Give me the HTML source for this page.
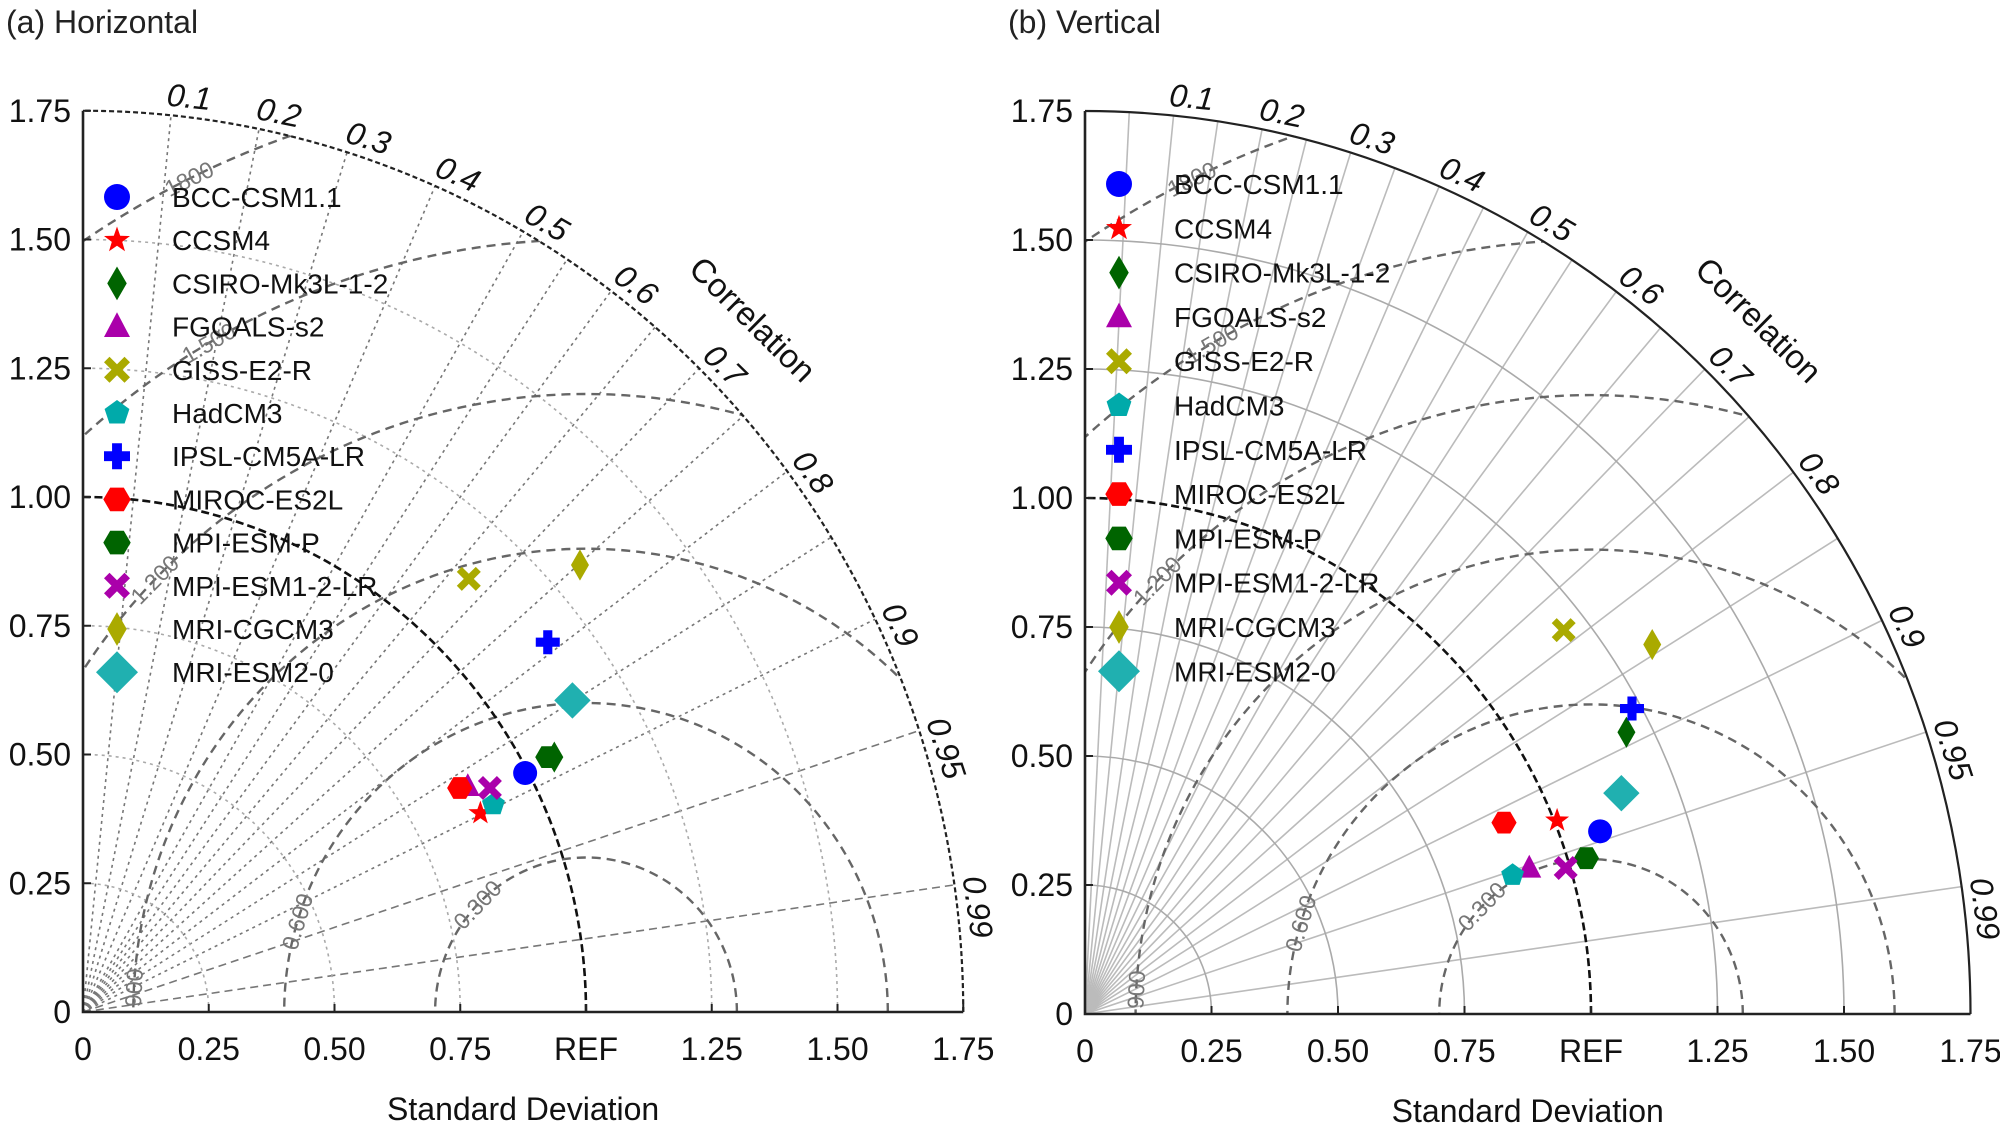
<!DOCTYPE html>
<html><head><meta charset="utf-8">
<style>
html,body{margin:0;padding:0;background:#fff;}
svg{display:block;font-family:"Liberation Sans",Arial,sans-serif;}
</style></head>
<body>
<svg id="chart" width="2000" height="1139" viewBox="0 0 2000 1139" xmlns="http://www.w3.org/2000/svg">
<defs>
<clipPath id="clipA"><path d="M83,1012 L963,1012 A880,902 0 0 0 83,110 Z"/></clipPath>
<clipPath id="clipB"><path d="M1085,1014 L1971,1014 A886,904 0 0 0 1085,110 Z"/></clipPath>
</defs>
</svg>
<script>
const models = ["BCC-CSM1.1","CCSM4","CSIRO-Mk3L-1-2","FGOALS-s2","GISS-E2-R","HadCM3","IPSL-CM5A-LR","MIROC-ES2L","MPI-ESM-P","MPI-ESM1-2-LR","MRI-CGCM3","MRI-ESM2-0"];
const shapes = ["circle","star","diamond","triangle","xmark","pentagon","plus","hexagon","hexagon","xmark","diamond","bigdiamond"];
const colors = ["#0000ff","#ff0000","#006400","#aa00aa","#aaaa00","#00aaaa","#0000ff","#ff0000","#006400","#aa00aa","#aaaa00","#20b0b0"];
// Panel (a) horizontal: std-dev x/y components
const aX = [0.879,0.790,0.937,0.765,0.767,0.816,0.924,0.749,0.924,0.809,0.988,0.973];
const aY = [0.464,0.386,0.495,0.438,0.841,0.403,0.718,0.435,0.495,0.435,0.868,0.605];
// Panel (b) vertical
const bX = [1.018,0.933,1.070,0.878,0.946,0.845,1.081,0.828,0.991,0.950,1.121,1.060];
const bY = [0.354,0.375,0.546,0.283,0.744,0.269,0.592,0.371,0.302,0.283,0.716,0.428];
const sdTicks = ["0","0.25","0.50","0.75","REF","1.25","1.50","1.75"];
const yTicks = ["0","0.25","0.50","0.75","1.00","1.25","1.50","1.75"];
const corrTicks = [0.1,0.2,0.3,0.4,0.5,0.6,0.7,0.8,0.9,0.95,0.99];
const rmsLevels = [0.3,0.6,0.9,1.2,1.5,1.8];
const rmsLabels = ["0.300","0.600","900","1.200","1.500","1800"];
const rmsLabelAng = [136,163,177,135.6,120,116];

const NS="http://www.w3.org/2000/svg";
const svg=document.getElementById('chart');
function mk(tag,attrs,parent){const e=document.createElementNS(NS,tag);for(const k in attrs)e.setAttribute(k,attrs[k]);(parent||svg).appendChild(e);return e;}

function markerPath(shape,cx,cy,s){
  const pts=(n,r,rot)=>{let a=[];for(let i=0;i<n;i++){const t=rot+i*2*Math.PI/n;a.push((cx+r*Math.cos(t)).toFixed(1)+","+(cy+r*Math.sin(t)).toFixed(1));}return "M"+a.join("L")+"Z";};
  switch(shape){
    case "circle": return `M${cx-s},${cy}a${s},${s} 0 1 0 ${2*s},0a${s},${s} 0 1 0 ${-2*s},0Z`;
    case "star": {let a=[];for(let i=0;i<10;i++){const r=i%2?s*0.42:s*1.05;const t=-Math.PI/2+i*Math.PI/5;a.push((cx+r*Math.cos(t)).toFixed(1)+","+(cy+r*Math.sin(t)).toFixed(1));}return "M"+a.join("L")+"Z";}
    case "diamond": return `M${cx},${cy-s*1.3}L${cx+s*0.75},${cy}L${cx},${cy+s*1.3}L${cx-s*0.75},${cy}Z`;
    case "bigdiamond": return `M${cx},${cy-s*1.4}L${cx+s*1.4},${cy}L${cx},${cy+s*1.4}L${cx-s*1.4},${cy}Z`;
    case "triangle": return `M${cx},${cy-s*1.1}L${cx+s*1.0},${cy+s*0.8}L${cx-s*1.0},${cy+s*0.8}Z`;
    case "pentagon": return pts(5,s,-Math.PI/2);
    case "hexagon": return pts(6,s*1.05,0);
    case "plus": {const w=s*0.38,l=s;return `M${cx-w},${cy-l}h${2*w}v${l-w}h${l-w}v${2*w}h${-(l-w)}v${l-w}h${-2*w}v${-(l-w)}h${-(l-w)}v${-2*w}h${l-w}Z`;}
    case "xmark": {const w=s*0.3,l=s;
      const p=[[-l,-l+w*1.4],[-l+w*1.4,-l],[0,-w*1.4],[l-w*1.4,-l],[l,-l+w*1.4],[w*1.4,0],[l,l-w*1.4],[l-w*1.4,l],[0,w*1.4],[-l+w*1.4,l],[-l,l-w*1.4],[-w*1.4,0]];
      return "M"+p.map(q=>(cx+q[0]).toFixed(1)+","+(cy+q[1]).toFixed(1)).join("L")+"Z";}
  }
}

function panel(id,ox,oy,sx,sy,xs,ys,title,dotted,legY0,legStep){
  const g=mk('g',{});
  const px=v=>ox+v*sx, py=v=>oy-v*sy;
  const P=(r,th)=>[px(r*Math.cos(th)),py(r*Math.sin(th))];
  const R=1.75;
  const t=mk('text',{x:ox-77,y:33,'font-size':32,fill:'#222'},g);t.textContent=title;
  
  const grid=mk('g',{'clip-path':'url(#clip'+id+')',},g);
  const corrLines=[];for(let c=0.05;c<0.96;c+=0.05)corrLines.push(+c.toFixed(2));corrLines.push(0.99);
  corrLines.forEach(c=>{const th=Math.acos(c);const [x,y]=P(R,th);
    const major=corrTicks.includes(c);
    if(dotted&&!major&&c<0.55) return;
    const l=mk('line',{x1:ox,y1:oy,x2:x,y2:y,stroke:dotted?'#777':'#bbb','stroke-width':1.6,'stroke-dasharray':dotted?(c>0.9?'8,5':'3,4'):'none'},grid);
    });
  [0.25,0.5,0.75,1.25,1.5].forEach(r=>{const a=mk('path',{d:`M${px(r)},${oy}A${r*sx},${r*sy} 0 0 0 ${ox},${py(r)}`,fill:'none',stroke:'#aaa','stroke-width':1.6,'stroke-dasharray':dotted?'3,4':'none'},grid);
    });
  rmsLevels.forEach((r,i)=>{const a=mk('path',{d:`M${px(1+r)},${oy}A${r*sx},${r*sy} 0 0 0 ${px(1-r)},${oy}`,fill:'none',stroke:'#666','stroke-width':2.4,'stroke-dasharray':'9,6'},grid);
    });
  const ref=mk('path',{d:`M${px(1)},${oy}A${sx},${sy} 0 0 0 ${ox},${py(1)}`,fill:'none',stroke:'#111','stroke-width':2.6,'stroke-dasharray':'8,4'},g);
  
  const oa=mk('path',{d:`M${px(R)},${oy}A${R*sx},${R*sy} 0 0 0 ${ox},${py(R)}`,fill:'none',stroke:'#222','stroke-width':2.2,'stroke-dasharray':dotted?'5,3':'none'},g);
  
  const ax=mk('path',{d:`M${ox},${py(R)}V${oy}H${px(R)}`,fill:'none',stroke:'#222','stroke-width':2.6},g);
  
  sdTicks.forEach((s,i)=>{const v=i*0.25;
    mk('line',{x1:px(v),y1:oy,x2:px(v),y2:oy-8,stroke:'#222','stroke-width':2},g);
    const tx=mk('text',{x:px(v),y:oy+48,'font-size':32,'text-anchor':'middle',fill:'#111'},g);tx.textContent=s;
    });
  yTicks.forEach((s,i)=>{const v=i*0.25;
    mk('line',{x1:ox,y1:py(v),x2:ox+8,y2:py(v),stroke:'#222','stroke-width':2},g);
    const tx=mk('text',{x:ox-12,y:py(v)+11,'font-size':32,'text-anchor':'end',fill:'#111'},g);tx.textContent=s;
    });
  const xt=mk('text',{x:px(0.875),y:oy+108,'font-size':32,'text-anchor':'middle',fill:'#111'},g);xt.textContent='Standard Deviation';
  
  corrTicks.forEach(c=>{const th=Math.acos(c);const [x,y]=P(R+0.01,th);const rot=90-th*180/Math.PI;
    const tx=mk('text',{x:x,y:y,'font-size':32,'font-style':'italic',fill:'#111',transform:`rotate(${rot},${x},${y}) translate(-6,-4)`},g);tx.textContent=String(c);
    });
  {const th=45.3*Math.PI/180;const [x,y]=P(1.87,th);const rot=90-th*180/Math.PI;
   const tx=mk('text',{x:x,y:y,'font-size':33,'text-anchor':'middle',fill:'#111',transform:`rotate(${rot},${x},${y})`},g);tx.textContent='Correlation';
   }
  rmsLevels.forEach((r,i)=>{const a=rmsLabelAng[i]*Math.PI/180;const x=px(1+r*Math.cos(a)),y=py(r*Math.sin(a));
    const tr=-(rmsLabelAng[i]-90);
    const tx=mk('text',{x:x,y:y+8,'font-size':23,'text-anchor':'middle',fill:'#777',transform:`rotate(${tr},${x},${y})`},g);tx.textContent=rmsLabels[i];
    });
  models.forEach((m,i)=>{const p=mk('path',{d:markerPath(shapes[i],px(xs[i]),py(ys[i]),shapes[i]==='bigdiamond'?13:12),fill:colors[i]},g);
    });
  const lg=mk('g',{},g);
  models.forEach((m,i)=>{const y=legY0+i*legStep;
    const p=mk('path',{d:markerPath(shapes[i],ox+34,y,shapes[i]==='bigdiamond'?15:13),fill:colors[i]},lg);
    
    const tx=mk('text',{x:ox+89,y:y+10,'font-size':28,fill:'#111'},lg);tx.textContent=m;
    });
}
panel('A',83,1012,503,515,aX,aY,'(a) Horizontal',true,197,43.2);
panel('B',1085,1014,506,516,bX,bY,'(b) Vertical',false,184,44.3);
</script>
</body></html>
